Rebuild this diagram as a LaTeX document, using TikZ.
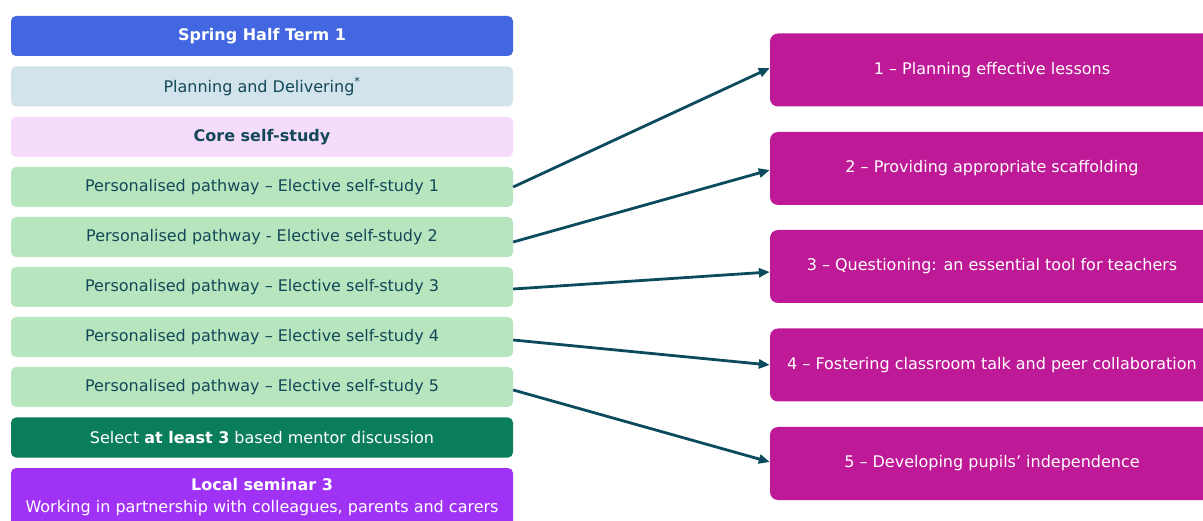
\documentclass[tikz,border=0pt]{standalone}
\usepackage{fontspec}
\setmainfont{DejaVu Sans}
\usetikzlibrary{arrows.meta}
\definecolor{hdrblue}{RGB}{66,103,224}
\definecolor{planbg}{RGB}{210,227,236}
\definecolor{corebg}{RGB}{244,220,250}
\definecolor{ppbg}{RGB}{183,230,190}
\definecolor{selbg}{RGB}{10,125,90}
\definecolor{sembg}{RGB}{160,50,245}
\definecolor{rbg}{RGB}{190,25,150}
\definecolor{arrowc}{RGB}{12,74,94}
\definecolor{darktext}{RGB}{18,72,88}
\tikzset{
  lbox/.style={rectangle, rounded corners=5pt, minimum width=502pt, minimum height=40pt, inner sep=0pt, font=\fontsize{16}{19}\selectfont},
  rbox/.style={rectangle, rounded corners=8pt, fill=rbg, text=white, minimum width=444pt, minimum height=73pt, inner sep=0pt, font=\fontsize{16}{19}\selectfont},
  pp/.style={lbox, fill=ppbg, text=darktext},
  conn/.style={draw=arrowc, line width=2.8pt, -{Triangle[length=11pt,width=9pt]}},
}
\begin{document}
\begin{tikzpicture}[x=1pt,y=-1pt]
\useasboundingbox (0,0) rectangle (1203,521);
\begin{scope}
\clip (0,0) rectangle (1203,521);
\node[lbox, fill=hdrblue, text=white, font=\fontsize{16}{19}\selectfont\bfseries] (hdr) at (262,36) {Spring Half Term 1};
\node[lbox, fill=planbg, text=darktext] (plan) at (262,86.5) {Planning and Delivering\textsuperscript{*}};
\node[lbox, fill=corebg, text=darktext, font=\fontsize{16}{19}\selectfont\bfseries] (core) at (262,137) {Core self-study};
\node[pp] (pp1) at (262,187) {Personalised pathway – Elective self-study 1};
\node[pp] (pp2) at (262,237) {Personalised pathway - Elective self-study 2};
\node[pp] (pp3) at (262,287) {Personalised pathway – Elective self-study 3};
\node[pp] (pp4) at (262,337) {Personalised pathway – Elective self-study 4};
\node[pp] (pp5) at (262,387) {Personalised pathway – Elective self-study 5};
\node[lbox, fill=selbg, text=white] (sel) at (262,437.5) {Select \textbf{at least 3} based mentor discussion};
\node[lbox, fill=sembg, minimum height=72pt] (sem) at (262,504) {};
\node[text=white, font=\fontsize{16}{19}\selectfont, align=center, inner sep=0pt] (semtxt) at (262,497.5) {\textbf{Local seminar 3}\\[3pt]Working in partnership with colleagues, parents and carers};

\node[rbox] (r1) at (992,70) {1 – Planning effective lessons};
\node[rbox] (r2) at (992,168.5) {2 – Providing appropriate scaffolding};
\node[rbox] (r3) at (992,266.5) {3 – Questioning: an essential tool for teachers};
\node[rbox] (r4) at (992,365) {4 – Fostering classroom talk and peer collaboration};
\node[rbox] (r5) at (992,463.5) {5 – Developing pupils’ independence};

\draw[conn] (pp1.east) -- ([yshift=2pt]r1.west);
\draw[conn] ([yshift=-5pt]pp2.east) -- ([yshift=-1.5pt]r2.west);
\draw[conn] ([yshift=-2pt]pp3.east) -- ([yshift=-5.5pt]r3.west);
\draw[conn] ([yshift=-3pt]pp4.east) -- (r4.west);
\draw[conn] ([yshift=-3pt]pp5.east) -- ([yshift=1.5pt]r5.west);
\end{scope}
\end{tikzpicture}
\end{document}
